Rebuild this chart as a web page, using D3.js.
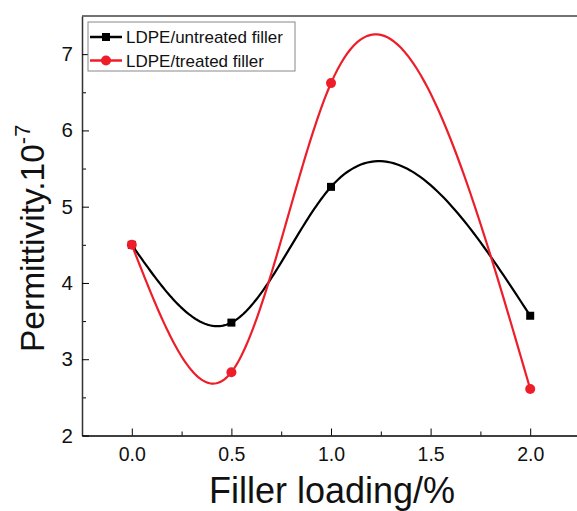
<html>
<script src='https://d3js.org/d3.v7.min.js'></script>
<style>
body { margin: 0; background: white; }
text { font-family: 'Liberation Sans', Arial, sans-serif; }
</style>
<body>
<svg width=577 height=511></svg>
<script>
// filler loading (%) and permittivity readings (x10^-7)
var loading = [0.0, 0.5, 1.0, 2.0];
var untreated = [4.5, 3.48, 5.26, 3.57];
var treated = [4.5, 2.83, 6.62, 2.61];
var seriesNames = ["LDPE/untreated filler", "LDPE/treated filler"];
var xTicks = [0.0, 0.5, 1.0, 1.5, 2.0];
var xMinor = [0.25, 0.75, 1.25, 1.75];
var yTicks = [2, 3, 4, 5, 6, 7];
var yMinor = [2.5, 3.5, 4.5, 5.5, 6.5];

var svg = d3.select("svg");
var x = d3.scaleLinear().domain([-0.25, 2.25]).range([82, 580]);
var y = d3.scaleLinear().domain([2, 7.5]).range([435.5, 16]);

// natural cubic spline through the points (same as the origin "spline" line)
function spline(xs, ys) {
  var n = xs.length, h = [], M = new Array(n).fill(0);
  for (var i = 0; i < n - 1; i++) h.push(xs[i+1] - xs[i]);
  // tridiagonal solve for inner second derivatives
  var a = [], b = [], c = [], r = [];
  for (var i = 1; i < n - 1; i++) {
    a.push(h[i-1]); b.push(2 * (h[i-1] + h[i])); c.push(h[i]);
    r.push(6 * ((ys[i+1] - ys[i]) / h[i] - (ys[i] - ys[i-1]) / h[i-1]));
  }
  var m = b.length;
  for (var i = 1; i < m; i++) {
    var w = a[i] / b[i-1];
    b[i] -= w * c[i-1]; r[i] -= w * r[i-1];
  }
  var sol = new Array(m);
  sol[m-1] = r[m-1] / b[m-1];
  for (var i = m - 2; i >= 0; i--) sol[i] = (r[i] - c[i] * sol[i+1]) / b[i];
  for (var i = 0; i < m; i++) M[i+1] = sol[i];
  var pts = [];
  for (var i = 0; i < n - 1; i++) {
    var steps = 60;
    for (var s = 0; s <= steps; s++) {
      if (i > 0 && s == 0) continue;
      var t = xs[i] + h[i] * s / steps;
      var A = xs[i+1] - t, B = t - xs[i];
      var v = M[i] * A*A*A / (6*h[i]) + M[i+1] * B*B*B / (6*h[i])
            + (ys[i]/h[i] - M[i]*h[i]/6) * A + (ys[i+1]/h[i] - M[i+1]*h[i]/6) * B;
      pts.push([t, v]);
    }
  }
  return pts;
}

// axes
svg.append("g")
  .attr("transform", "translate(0,435.5)")
  .call(d3.axisBottom(x).tickValues(xMinor).tickSize(-4).tickSizeOuter(0).tickFormat(""))
  .call(g => g.select(".domain").remove());
var xa = svg.append("g")
  .attr("transform", "translate(0,435.5)")
  .call(d3.axisBottom(x).tickValues(xTicks).tickSize(-7).tickSizeOuter(0).tickPadding(12).tickFormat(d3.format(".1f")));
xa.selectAll("text").attr("font-size", 19.5).attr("fill", "#111");
xa.select(".domain").attr("stroke-width", 1.5);

svg.append("g")
  .attr("transform", "translate(82,0)")
  .call(d3.axisLeft(y).tickValues(yMinor).tickSize(-4).tickSizeOuter(0).tickFormat(""))
  .call(g => g.select(".domain").remove());
var ya = svg.append("g")
  .attr("transform", "translate(82,0)")
  .call(d3.axisLeft(y).tickValues(yTicks).tickSize(-7).tickSizeOuter(0).tickPadding(9).tickFormat(d3.format("d")));
ya.selectAll("text").attr("font-size", 20.5).attr("fill", "#111");
ya.select(".domain").attr("stroke-width", 1.5).attr("stroke", "#333");

// top border
svg.append("line")
  .attr("x1", x(-0.25)).attr("x2", 577)
  .attr("y1", y(7.5)).attr("y2", y(7.5))
  .attr("stroke", "#444").attr("stroke-width", 1.5);

// axis titles
svg.append("text")
  .attr("x", 332).attr("y", 502.5)
  .attr("text-anchor", "middle").attr("font-size", 36).attr("fill", "#111")
  .text("Filler loading/%");

var yl = svg.append("text")
  .attr("transform", "translate(44,352) rotate(-90)")
  .attr("font-size", 33.5).attr("fill", "#111");
yl.append("tspan").text("Permittivity.10");
yl.append("tspan").attr("font-size", 22).attr("dy", -14).text("-7");

// series
var line = d3.line().x(d => x(d[0])).y(d => y(d[1]));
var series = [
  {name: seriesNames[0], vals: untreated, color: "#000000", shape: "square"},
  {name: seriesNames[1], vals: treated, color: "#ee1d2a", shape: "circle"}
];

series.forEach(function(s) {
  svg.append("path")
    .attr("d", line(spline(loading, s.vals)))
    .attr("fill", "none").attr("stroke", s.color).attr("stroke-width", 2.2);
  var pts = loading.map((v, i) => [v, s.vals[i]]);
  if (s.shape == "square") {
    svg.selectAll(null).data(pts).enter().append("rect")
      .attr("x", d => x(d[0]) - 4).attr("y", d => y(d[1]) - 4)
      .attr("width", 8).attr("height", 8).attr("fill", s.color);
  } else {
    svg.selectAll(null).data(pts).enter().append("circle")
      .attr("cx", d => x(d[0])).attr("cy", d => y(d[1]))
      .attr("r", 5).attr("fill", s.color);
  }
});

// legend
var lg = svg.append("g");
lg.append("rect").attr("x", 88).attr("y", 22).attr("width", 207).attr("height", 49)
  .attr("fill", "white").attr("stroke", "#888").attr("stroke-width", 1);
series.forEach(function(s, i) {
  var ly = 37 + i * 23.5;
  lg.append("line").attr("x1", 90).attr("x2", 122).attr("y1", ly).attr("y2", ly)
    .attr("stroke", s.color).attr("stroke-width", 2.5);
  if (s.shape == "square")
    lg.append("rect").attr("x", 102).attr("y", ly - 4).attr("width", 8).attr("height", 8).attr("fill", s.color);
  else
    lg.append("circle").attr("cx", 106).attr("cy", ly).attr("r", 5).attr("fill", s.color);
  lg.append("text").attr("x", 126).attr("y", ly).attr("dy", "0.36em")
    .attr("font-size", 17).attr("fill", "#111").text(s.name);
});
</script>
</body>
</html>
